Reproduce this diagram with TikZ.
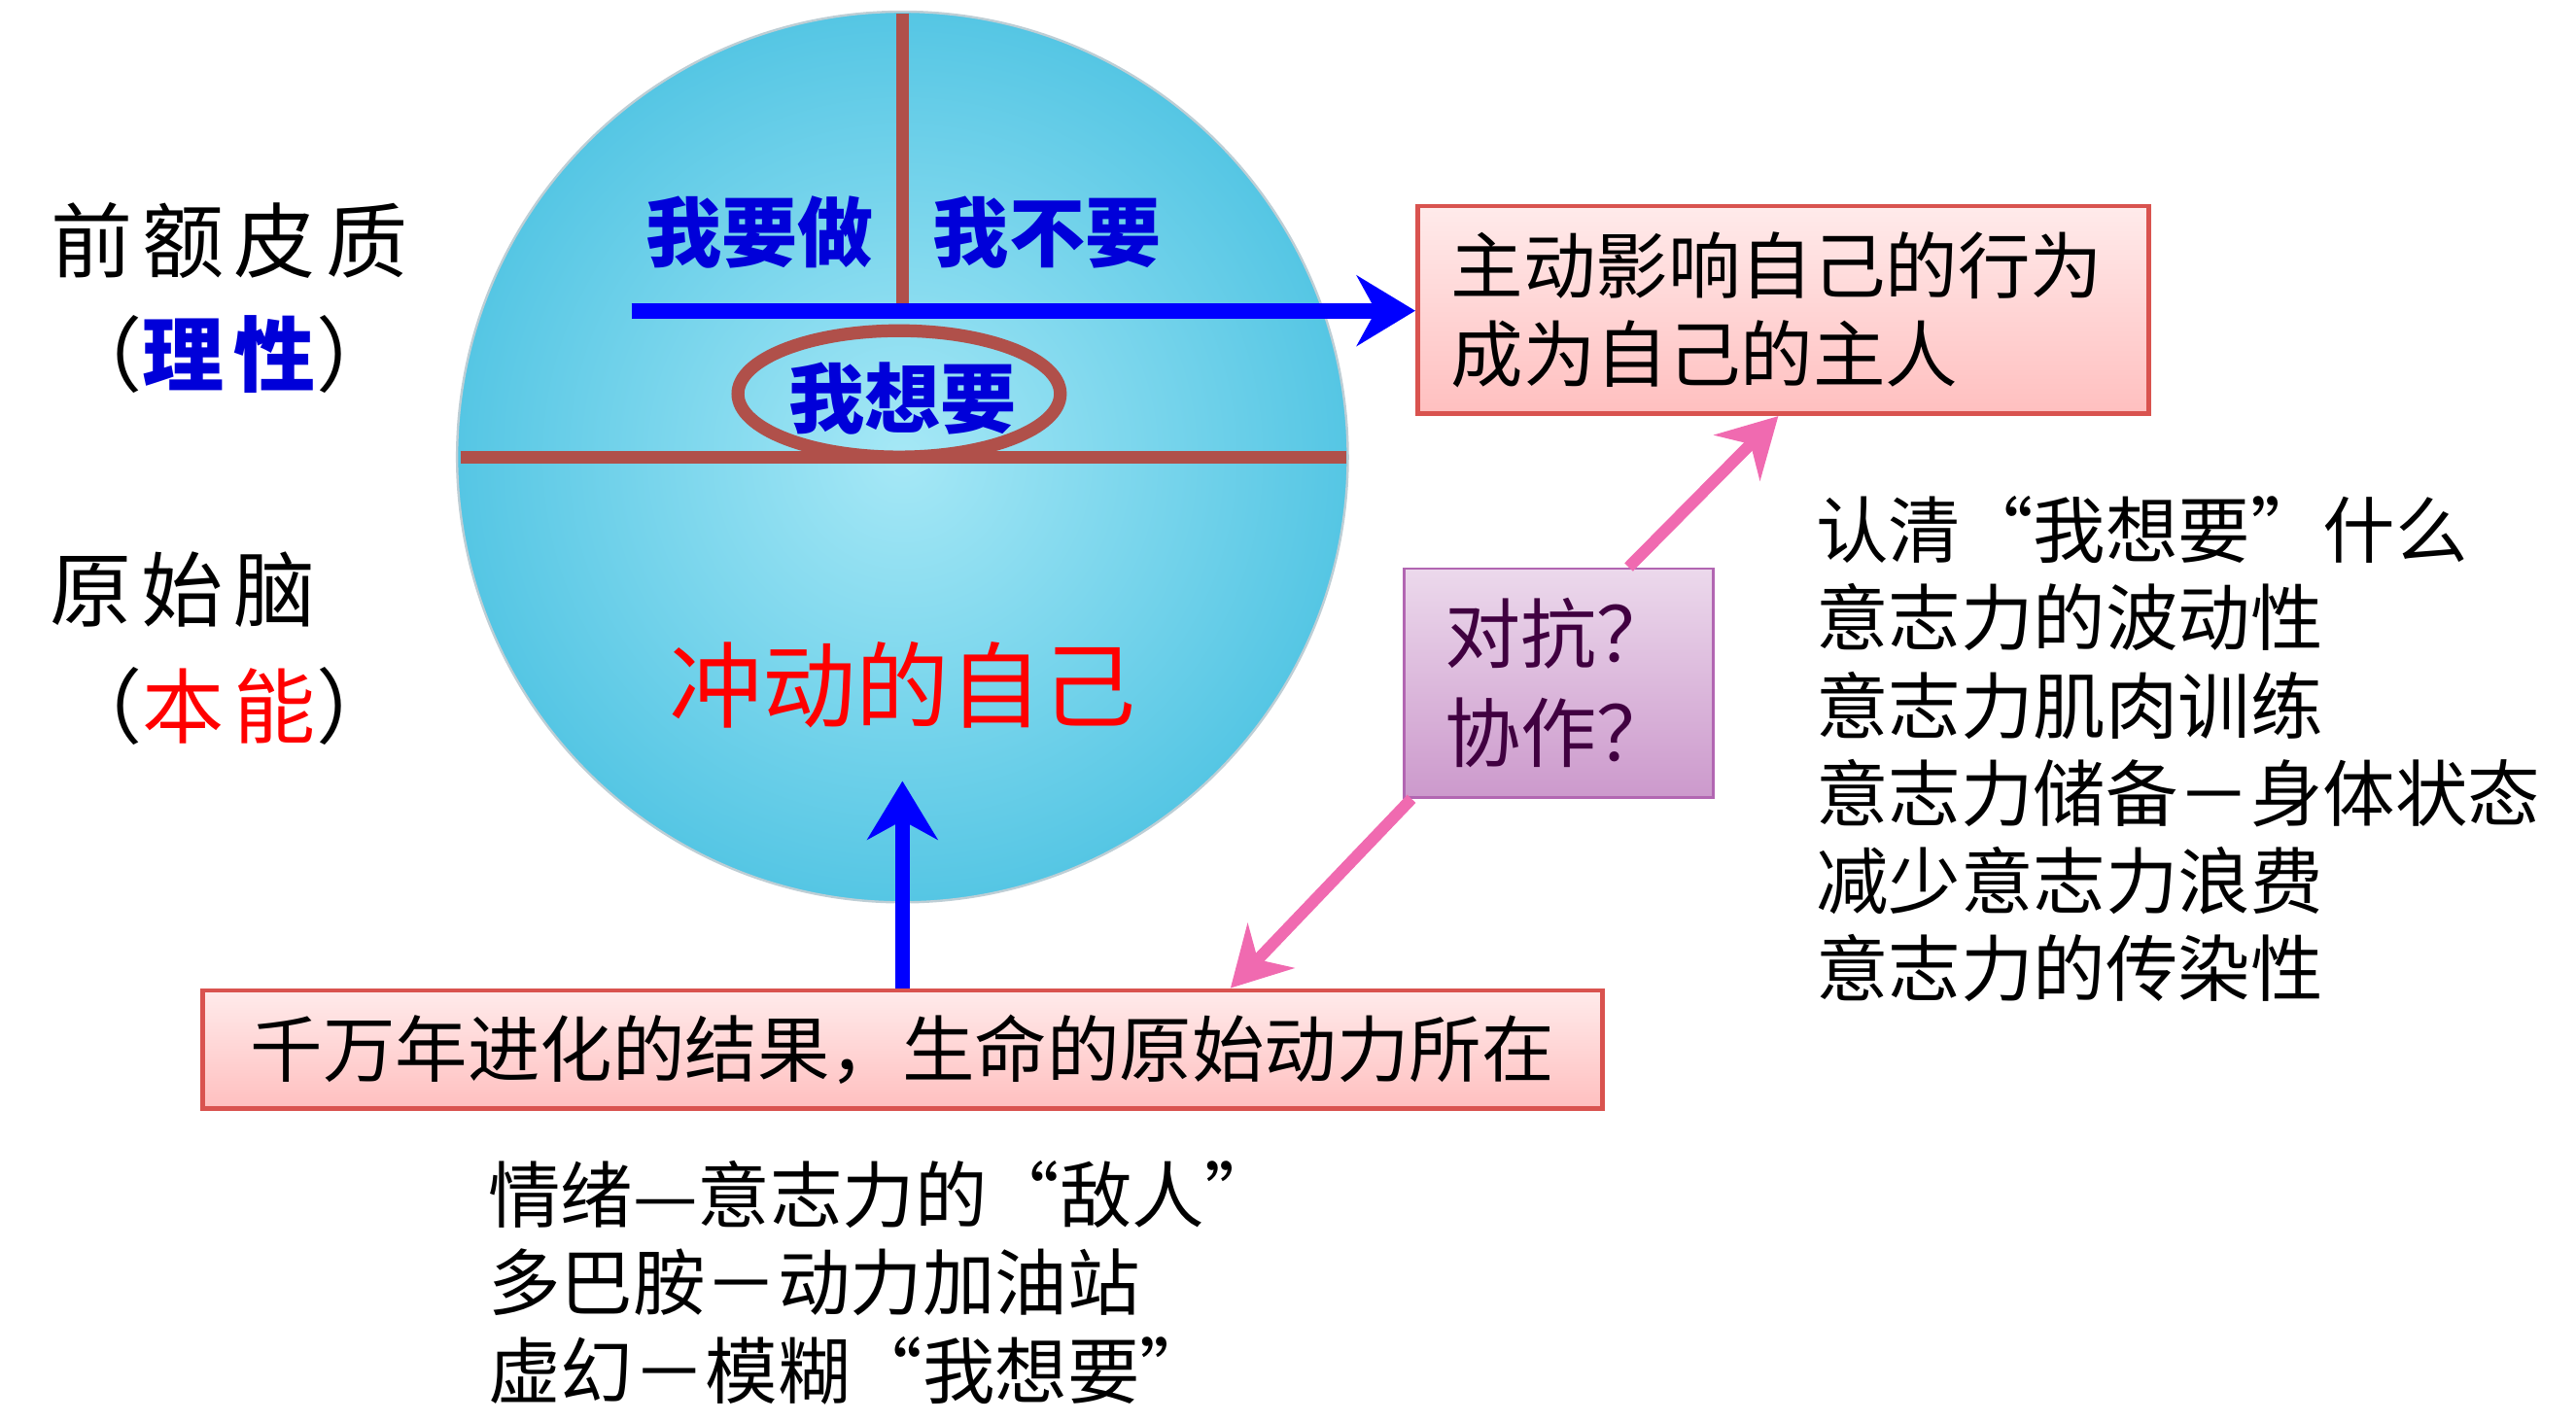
\documentclass[tikz,border=0pt]{standalone}
\usepackage{fontspec}
\setmainfont{Noto Sans CJK SC}
\newfontfamily\spaced[LetterSpace=12]{Noto Sans CJK SC}
\usetikzlibrary{arrows.meta}
\definecolor{brainline}{HTML}{B0504A}
\definecolor{boxred}{HTML}{D9534F}
\definecolor{arrowpink}{HTML}{F06AB0}
\definecolor{brainin}{HTML}{A6E8F6}
\definecolor{brainout}{HTML}{55C6E4}
\begin{document}
\begin{tikzpicture}[
  txt/.style={font=\fontsize{12.4}{15}\selectfont, align=left, inner sep=0pt},
  side/.style={txt, font=\spaced\fontsize{14}{16}\selectfont},
  part/.style={font=\fontsize{13}{15}\selectfont\bfseries, text=blue!85!black, inner sep=0pt},
  divider/.style={brainline, line width=2.2pt},
  pinkbox/.style={draw=boxred, line width=0.8pt, top color=red!8, bottom color=red!25, inner sep=5pt, txt},
  thickarrow/.style={-{Stealth[length=10pt,width=12pt]}, line width=2.6pt, blue},
  pinkarrow/.style={-{Stealth[length=10pt,width=11pt]}, line width=2pt, arrowpink}
]
\useasboundingbox (0,0) rectangle (15.5,-8.557);

% Brain circle
\node[circle, minimum size=5.36cm, inner sep=0pt, shading=radial,
  inner color=brainin, outer color=brainout, draw=cyan!40!black!30] (brain) at (5.43,-2.75) {};
\draw[divider] (5.43,-0.08) -- (5.43,-1.85);
\draw[divider] (2.77,-2.75) -- (8.10,-2.75);
\draw[divider] (5.41,-2.37) ellipse (0.97 and 0.38);

\node[part] (doit) at (4.57,-1.40) {我要做};
\node[part] (dont) at (6.30,-1.40) {我不要};
\node[part] (want) at (5.43,-2.40) {我想要};
\node[font=\fontsize{16}{18}\selectfont, text=red, inner sep=0pt] (impulse) at (5.43,-4.12) {冲动的自己};

% Left labels
\node[side] (cortex) at (1.38,-1.45) {前额皮质};
\node[side] (reason) at (1.38,-2.13) {（{\bfseries\color{blue!85!black}理性}）};
\node[side] (oldbrain) at (1.10,-3.55) {原始脑};
\node[side] (instinct) at (1.38,-4.25) {（{\color{red}本能}）};

% Boxes
\node[pinkbox, minimum width=4.4cm, minimum height=1.25cm, text width=4.0cm] (master) at (10.73,-1.865) {主动影响自己的行为\\成为自己的主人};
\node[pinkbox, minimum width=8.42cm, minimum height=0.71cm] (origin) at (5.43,-6.315) {千万年进化的结果，生命的原始动力所在};
\node[draw=violet!60, top color=violet!15, bottom color=violet!40, minimum width=1.86cm, minimum height=1.38cm,
  txt, text=violet!50!black, font=\fontsize{13}{17}\selectfont] (fight) at (9.38,-4.11) {对抗？\\协作？};

% Arrows
\coordinate (leftend) at (3.80,-1.87);
\draw[thickarrow] (leftend) -- (master.west |- leftend);
\draw[thickarrow] (origin.north) -- (5.43,-4.70);
\draw[pinkarrow] ([xshift=0.42cm]fight.north) -- ([xshift=-0.03cm]master.south);
\draw[pinkarrow] ([xshift=0.05cm]fight.south west) -- ([xshift=-2.25cm]origin.north east);

% Lists
\node[txt, anchor=north west] (tips) at (10.92,-2.98) {认清“我想要”什么\\意志力的波动性\\意志力肌肉训练\\意志力储备－身体状态\\减少意志力浪费\\意志力的传染性};
\node[txt, anchor=north west] (emotions) at (2.93,-6.98) {情绪—意志力的“敌人”\\多巴胺－动力加油站\\虚幻－模糊“我想要”};
\end{tikzpicture}
\end{document}
